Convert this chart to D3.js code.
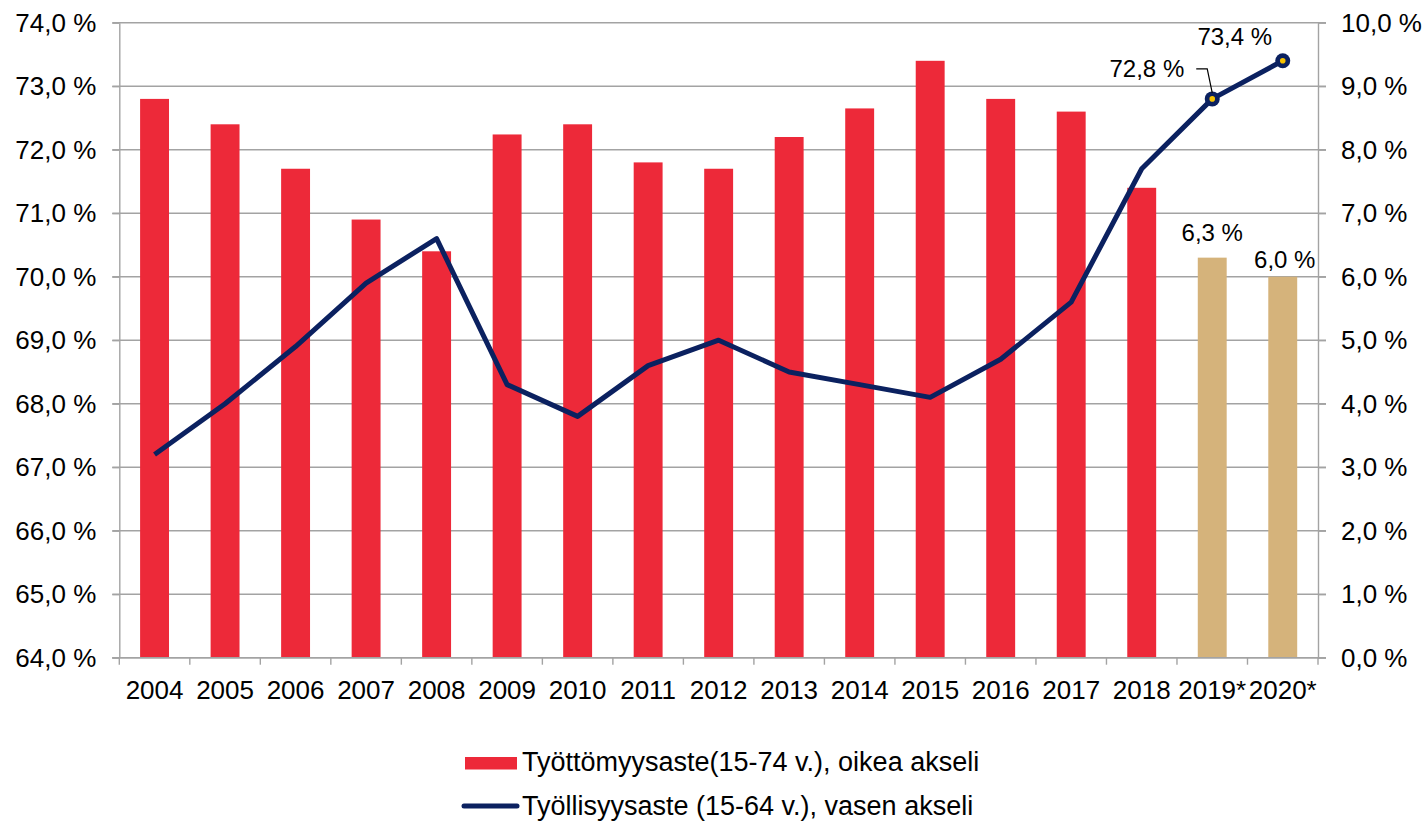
<!DOCTYPE html>
<html>
<head>
<meta charset="utf-8">
<script src="https://cdn.jsdelivr.net/npm/d3@7"></script>
<style>
  html, body { margin: 0; padding: 0; background: #fff; }
  svg { display: block; font-family: Arial, "Liberation Sans", sans-serif; }
</style>
</head>
<body>
<div id="chart"></div>
<script>
const years = ['2004', '2005', '2006', '2007', '2008', '2009', '2010', '2011', '2012',
  '2013', '2014', '2015', '2016', '2017', '2018', '2019*', '2020*']
// Työttömyysaste, right axis
const unemployment = [8.8, 8.4, 7.7, 6.9, 6.4, 8.24, 8.4, 7.8, 7.7, 8.2, 8.65, 9.4, 8.8, 8.6, 7.4, 6.3, 6.0]
// Työllisyysaste, left axis
const employment = [67.2, 68.0, 68.9, 69.9, 70.6, 68.3, 67.8, 68.6, 69.0, 68.5, 68.3, 68.1, 68.7, 69.6, 71.7, 72.8, 73.4]
const forecast = ['2019*', '2020*']
const leftTicks = [64, 65, 66, 67, 68, 69, 70, 71, 72, 73, 74]
const rightTicks = [0, 1, 2, 3, 4, 5, 6, 7, 8, 9, 10]
const legendNames = ['Työttömyysaste(15-74 v.), oikea akseli', 'Työllisyysaste (15-64 v.), vasen akseli']

const width = 1428
const height = 821
const plot = { left: 119.3, right: 1318, top: 22.7, bottom: 657.7 }

const red = '#ED2939'
const tan = '#D5B37B'
const navy = '#0B2160'
const gridColor = '#A3A3A3'
const fontSize = 26

const fmt = d => d.toFixed(1).replace('.', ',') + ' %'

const svg = d3.select('#chart')
  .append('svg')
  .attr('width', width)
  .attr('height', height)

const x = d3.scaleBand().domain(years).range([plot.left, plot.right]).padding(0)
const yL = d3.scaleLinear().domain([64, 74]).range([plot.bottom, plot.top])
const yR = d3.scaleLinear().domain([0, 10]).range([plot.bottom, plot.top])
const barW = x.bandwidth() * 0.41

// gridlines
svg.append('g')
  .selectAll('line')
  .data(leftTicks)
  .enter()
  .append('line')
  .attr('x1', plot.left - 7)
  .attr('x2', plot.right + 8)
  .attr('y1', d => yL(d))
  .attr('y2', d => yL(d))
  .attr('stroke', gridColor)
  .attr('stroke-width', 1.4)

// bars
svg.append('g')
  .selectAll('rect')
  .data(years.map((y, i) => ({ year: y, value: unemployment[i] })))
  .enter()
  .append('rect')
  .attr('x', d => x(d.year) + (x.bandwidth() - barW) / 2)
  .attr('y', d => yR(d.value))
  .attr('width', barW)
  .attr('height', d => yR(0) - yR(d.value))
  .attr('fill', d => (forecast.includes(d.year) ? tan : red))

// axes
const styleAxis = g => {
  g.select('.domain').attr('stroke', gridColor).attr('stroke-width', 1.4)
  g.selectAll('.tick line').attr('stroke', gridColor).attr('stroke-width', 1.4)
  g.selectAll('.tick text').attr('fill', '#000').attr('font-size', fontSize)
    .attr('font-family', 'Arial, "Liberation Sans", sans-serif')
}

svg.append('g')
  .attr('transform', `translate(${plot.left},0)`)
  .call(d3.axisLeft(yL).tickValues(leftTicks).tickFormat(fmt).tickSize(7).tickPadding(16).tickSizeOuter(0))
  .call(styleAxis)

svg.append('g')
  .attr('transform', `translate(${plot.right},0)`)
  .call(d3.axisRight(yR).tickValues(rightTicks).tickFormat(fmt).tickSize(8).tickPadding(15).tickSizeOuter(0))
  .call(styleAxis)

// bottom axis: ticks on category boundaries, labels at centres
const xAxis = svg.append('g').attr('transform', `translate(0,${plot.bottom})`)
xAxis.append('line')
  .attr('x1', plot.left - 7)
  .attr('x2', plot.right + 8)
  .attr('stroke', gridColor)
  .attr('stroke-width', 1.4)
xAxis.selectAll('.tk')
  .data(years.concat(['end']))
  .enter()
  .append('line')
  .attr('class', 'tk')
  .attr('x1', d => (d === 'end' ? plot.right : x(d)))
  .attr('x2', d => (d === 'end' ? plot.right : x(d)))
  .attr('y1', 0)
  .attr('y2', 7)
  .attr('stroke', gridColor)
  .attr('stroke-width', 1.4)
xAxis.selectAll('text')
  .data(years)
  .enter()
  .append('text')
  .attr('x', d => x(d) + x.bandwidth() / 2)
  .attr('y', 41)
  .attr('text-anchor', 'middle')
  .attr('font-size', fontSize)
  .text(d => d)

// line
const line = d3.line()
  .x((d, i) => x(years[i]) + x.bandwidth() / 2)
  .y(d => yL(d))

svg.append('path')
  .datum(employment)
  .attr('d', line)
  .attr('fill', 'none')
  .attr('stroke', navy)
  .attr('stroke-width', 5)
  .attr('stroke-linejoin', 'round')

// forecast markers
const fc = years.map((y, i) => ({ year: y, value: employment[i], bar: unemployment[i] }))
  .filter(d => forecast.includes(d.year))

const markers = svg.append('g')
  .selectAll('g')
  .data(fc)
  .enter()
  .append('g')
  .attr('transform', d => `translate(${x(d.year) + x.bandwidth() / 2},${yL(d.value)})`)
markers.append('circle').attr('r', 7.5).attr('fill', navy)
markers.append('circle').attr('r', 2.8).attr('fill', '#F7C200')

// data labels (moved by hand in the original)
const lineLabelShift = [[-28, -22, 'end'], [-48, -16, 'middle']]
const barLabelShift = [[0, -17, 'middle'], [2, -9, 'middle']]

fc.forEach((d, i) => {
  const cx = x(d.year) + x.bandwidth() / 2
  const cy = yL(d.value)
  const [dx, dy, anchor] = lineLabelShift[i]
  svg.append('text')
    .attr('x', cx + dx)
    .attr('y', cy + dy)
    .attr('text-anchor', anchor)
    .attr('font-size', fontSize - 2)
    .text(fmt(d.value))
  const [bx, by, banchor] = barLabelShift[i]
  svg.append('text')
    .attr('x', cx + bx)
    .attr('y', yR(d.bar) + by)
    .attr('text-anchor', banchor)
    .attr('font-size', fontSize - 2)
    .text(fmt(d.bar))
})

// leader line for 72,8 %
{
  const cx = x(fc[0].year) + x.bandwidth() / 2
  const cy = yL(fc[0].value)
  svg.append('path')
    .attr('d', `M${cx - 16},${cy - 30}H${cx - 5}L${cx},${cy - 6}`)
    .attr('fill', 'none')
    .attr('stroke', '#000')
    .attr('stroke-width', 1.2)
}

// legend
const legend = svg.append('g').attr('transform', 'translate(464,0)')
legend.append('rect')
  .attr('x', 1).attr('y', 757).attr('width', 52).attr('height', 12.5)
  .attr('fill', red)
legend.append('text')
  .attr('x', 58).attr('y', 771).attr('font-size', 27)
  .text(legendNames[0])
legend.append('line')
  .attr('x1', 0).attr('x2', 53).attr('y1', 806).attr('y2', 806)
  .attr('stroke', navy).attr('stroke-width', 5).attr('stroke-linecap', 'round')
legend.append('text')
  .attr('x', 58).attr('y', 815).attr('font-size', 27)
  .text(legendNames[1])
</script>
</body>
</html>
